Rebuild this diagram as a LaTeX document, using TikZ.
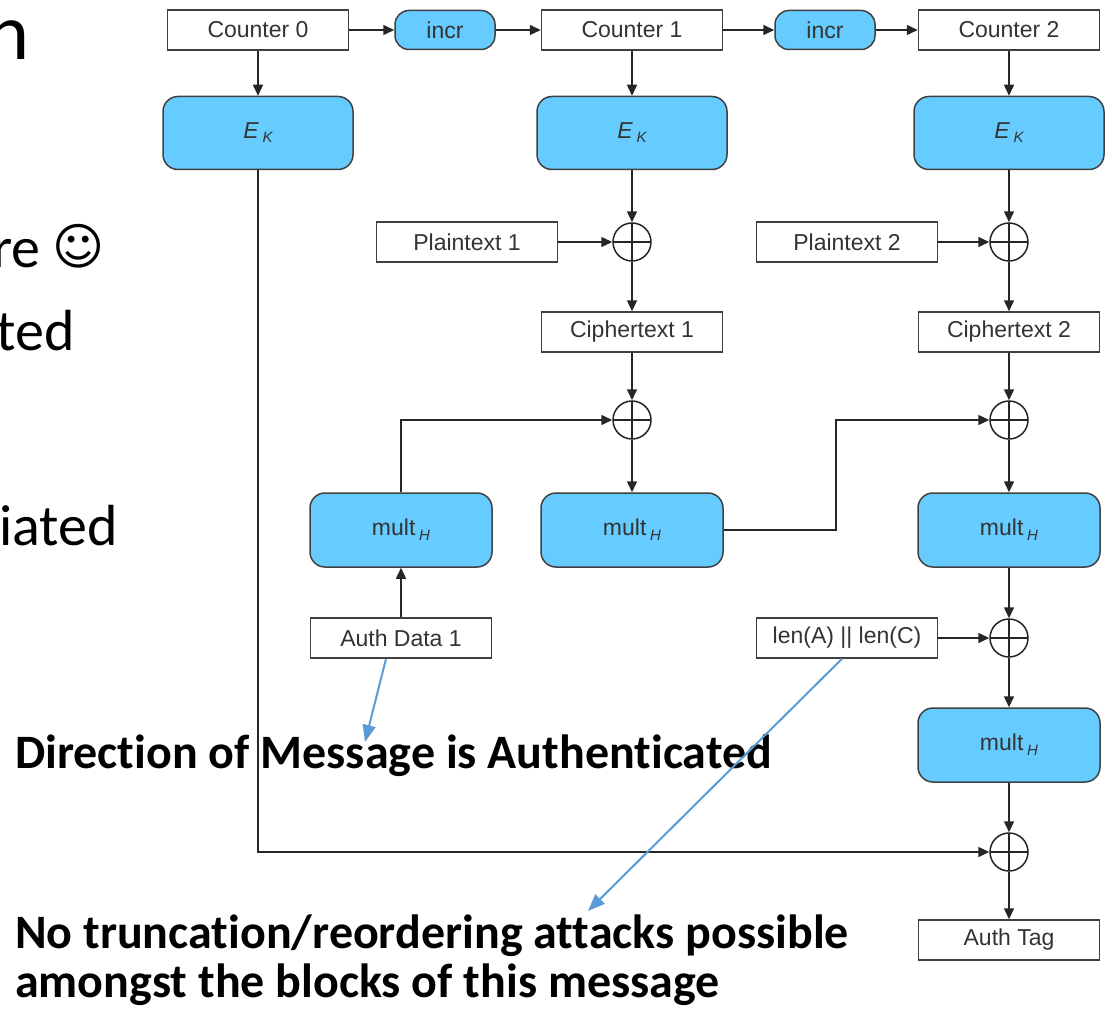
\documentclass[tikz,border=0pt]{standalone}
\usepackage{fontspec}
\setmainfont{Liberation Sans}
\newfontfamily\slidefont[Ligatures=NoCommon]{Carlito}
\newfontfamily\symbolfont{DejaVu Sans}
\usetikzlibrary{arrows.meta}

\definecolor{gcmblue}{HTML}{66CCFF}
\definecolor{boxline}{HTML}{404040}
\definecolor{boxtext}{HTML}{333333}
\definecolor{noteblue}{HTML}{5B9BD5}

% block labels with a small lowered index
\newcommand{\ek}{{\itshape E}\,\raisebox{-4pt}{\fontsize{15}{15}\selectfont\itshape K}}
\newcommand{\multh}{mult\,\raisebox{-5pt}{\fontsize{15}{15}\selectfont\itshape H}}

\tikzset{
  block/.style={draw=boxline, line width=1.5pt, fill=white, text=boxtext,
    minimum width=181pt, minimum height=40pt, inner sep=0pt,
    font=\fontsize{23}{26}\selectfont},
  keyblock/.style={block, fill=gcmblue, rounded corners=15pt,
    minimum width=190pt, minimum height=73pt},
  multblock/.style={block, fill=gcmblue, rounded corners=15pt,
    minimum width=182pt, minimum height=74pt},
  incrblock/.style={block, fill=gcmblue, rounded corners=14pt,
    minimum width=100pt, minimum height=39pt},
  xorgate/.style={circle, draw=black!85, line width=1.5pt, fill=white,
    minimum size=38pt, inner sep=0pt,
    path picture={\draw[black!85, line width=1.5pt]
      (path picture bounding box.north) -- (path picture bounding box.south)
      (path picture bounding box.west) -- (path picture bounding box.east);}},
  flow/.style={draw=black!85, line width=1.5pt, -{Triangle[length=11pt,width=10pt]}},
  note/.style={draw=noteblue, line width=2pt, -{Triangle[length=17pt,width=13pt]}},
  slide/.style={inner sep=0pt, font=\slidefont\fontsize{58}{70}\selectfont},
  remark/.style={inner sep=0pt, anchor=base west,
    font=\slidefont\bfseries\fontsize{48}{56}\selectfont},
}

\begin{document}
\begin{tikzpicture}[x=1pt, y=-1pt]
  \clip (0,0) rectangle (1107,1011);
  \fill[white] (0,0) rectangle (1107,1011);

  % slide text running under the figure
  \node[slide, anchor=base east, font=\slidefont\fontsize{80}{96}\selectfont] (title) at (30,60) {n};
  \node[slide, anchor=base east] (bulletA) at (41,267) {re};
  \node[inner sep=0pt, font=\symbolfont\fontsize{50}{60}\selectfont] (smile) at (79,246) {☺};
  \node[slide, anchor=base east] (bulletB) at (75,350) {ted};
  \node[slide, anchor=base east] (bulletC) at (118,545) {iated};

  % counters
  \node[block] (ctr0) at (258,30) {Counter 0};
  \node[incrblock] (inc1) at (445,30) {incr};
  \node[block] (ctr1) at (632,30) {Counter 1};
  \node[incrblock] (inc2) at (825,30) {incr};
  \node[block] (ctr2) at (1009,30) {Counter 2};

  % block cipher
  \node[keyblock] (ek0) at (258,133) {\ek};
  \node[keyblock] (ek1) at (632,133) {\ek};
  \node[keyblock] (ek2) at (1009,133) {\ek};

  % encryption
  \node[block] (pt1) at (467,242) {Plaintext 1};
  \node[block] (pt2) at (847,242) {Plaintext 2};
  \node[xorgate] (xa1) at (632,242) {};
  \node[xorgate] (xa2) at (1009,242) {};
  \node[block] (ct1) at (632,332) {Ciphertext 1};
  \node[block] (ct2) at (1009,332) {Ciphertext 2};

  % GHASH chain
  \node[xorgate] (xb1) at (632,420) {};
  \node[xorgate] (xb2) at (1009,420) {};
  \node[multblock] (mh0) at (401,530) {\multh};
  \node[multblock] (mh1) at (632,530) {\multh};
  \node[multblock] (mh2) at (1009,530) {\multh};
  \node[block] (ad) at (401,638) {Auth Data 1};
  \node[block] (ln) at (847,638) {len(A) || len(C)};
  \node[xorgate] (xc) at (1009,638) {};
  \node[multblock] (mh3) at (1009,745) {\multh};
  \node[xorgate] (xd) at (1009,852) {};
  \node[block] (tag) at (1009,940) {Auth Tag};

  \draw[flow] (ctr0) -- (inc1);
  \draw[flow] (inc1) -- (ctr1);
  \draw[flow] (ctr1) -- (inc2);
  \draw[flow] (inc2) -- (ctr2);
  \draw[flow] (ctr0) -- (ek0);
  \draw[flow] (ctr1) -- (ek1);
  \draw[flow] (ctr2) -- (ek2);

  \draw[flow] (ek1) -- (xa1);
  \draw[flow] (ek2) -- (xa2);
  \draw[flow] (pt1) -- (xa1);
  \draw[flow] (pt2) -- (xa2);
  \draw[flow] (xa1) -- (ct1);
  \draw[flow] (xa2) -- (ct2);
  \draw[flow] (ct1) -- (xb1);
  \draw[flow] (ct2) -- (xb2);
  \draw[flow] (xb1) -- (mh1);
  \draw[flow] (xb2) -- (mh2);

  \draw[flow] (ad) -- (mh0);
  \draw[flow] (mh0.north) |- (xb1.west);
  \draw[flow] (mh1.east) -- ++(112,0) |- (xb2.west);
  \draw[flow] (mh2) -- (xc);
  \draw[flow] (ln) -- (xc);
  \draw[flow] (xc) -- (mh3);
  \draw[flow] (mh3) -- (xd);
  \draw[flow] (ek0.south) |- (xd.west);
  \draw[flow] (xd) -- (tag);

  % remarks
  \node[remark] (dirnote) at (15,768) {Direction of Message is Authenticated};
  \node[remark] (trunc1) at (15,948) {No truncation/reordering attacks possible};
  \node[remark] (trunc2) at (15,997) {amongst the blocks of this message};

  \coordinate (tipa) at (365,742);
  \coordinate (tipb) at (588,911);
  \draw[note] ([xshift=-15pt]ad.south) -- (tipa);
  \draw[note] ([xshift=-5pt]ln.south) -- (tipb);
\end{tikzpicture}
\end{document}
